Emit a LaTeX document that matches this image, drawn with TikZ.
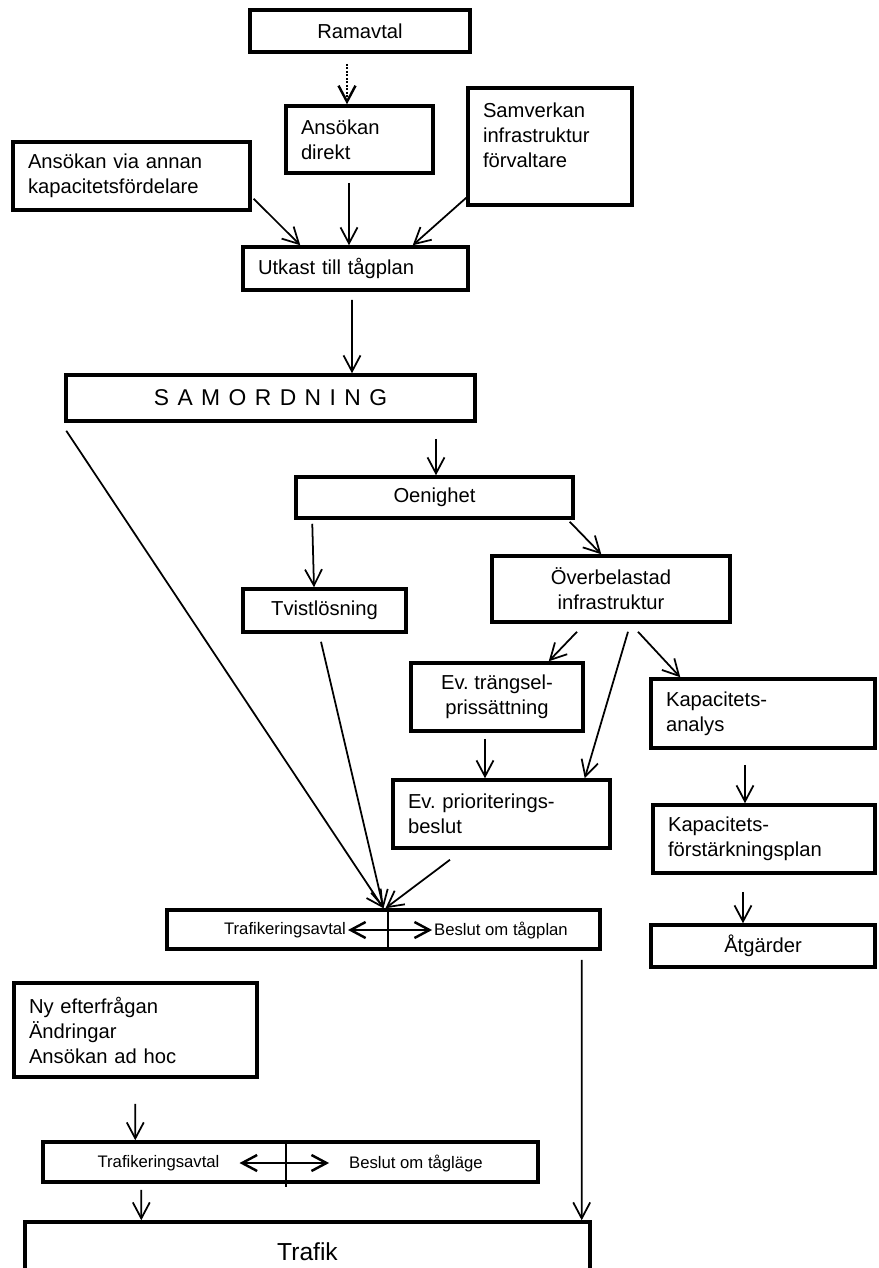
\documentclass[tikz,border=0pt]{standalone}
\usepackage{fontspec}
\setmainfont{Liberation Sans}
\usetikzlibrary{arrows.meta}
\newcommand{\spacedfont}{\fontsize{13}{15}\selectfont\spaceskip=4.8pt\relax}
\tikzset{
  box/.style={draw, line width=2pt, inner sep=0pt, align=center},
  leftbox/.style={box, align=left, inner xsep=0.3cm},
  arrow/.style={-{Straight Barb[length=3.2mm, width=3.4mm]}, line width=1pt},
  dotarrow/.style={arrow, densely dotted, line width=1.4pt},
  both/.style={{Straight Barb[length=3mm, width=3.2mm]}-{Straight Barb[length=3mm, width=3.2mm]}, line width=1.4pt},
  divider/.style={line width=1.4pt},
  small/.style={font=\fontsize{9.5}{11}\selectfont, inner sep=1pt},
  every node/.style={font=\fontsize{11.5}{14.2}\selectfont}
}
\begin{document}
\begin{tikzpicture}[x=0.02cm, y=-0.02cm]
    \useasboundingbox (0,0) rectangle (879,1268);
    \clip (0,0) rectangle (879,1268);

    % ansokningar
    \node[box, minimum width=4.4cm, minimum height=0.84cm] (ramavtal) at (360,31) {Ramavtal};
    \node[leftbox, text width=2.34cm, minimum height=1.34cm] (direkt) at (359.5,139.5) {Ansökan\\direkt};
    \node[box, inner xsep=0.3cm, inner ysep=0.3cm] (samverkan) at (550,146.5) {\parbox[c][1.74cm][t]{2.68cm}{Samverkan\\infrastruktur\\förvaltare}};
    \node[leftbox, text width=4.14cm, minimum height=1.36cm] (annan) at (131.5,176) {Ansökan via annan\\kapacitetsfördelare};
    \node[leftbox, text width=3.9cm, minimum height=0.86cm] (utkast) at (355.5,268.5) {Utkast till tågplan};
    \node[box, minimum width=8.18cm, minimum height=0.92cm, font=\spacedfont] (samordning) at (270.5,398) {S A M O R D N I N G};

    % oenighet
    \node[box, minimum width=5.54cm, minimum height=0.82cm] (oenighet) at (434.5,497.5) {Oenighet};
    \node[box, minimum width=3.26cm, minimum height=0.86cm] (tvist) at (324.5,610.5) {Tvistlösning};
    \node[box, minimum width=4.76cm, minimum height=1.32cm] (overbelastad) at (611,589) {Överbelastad\\infrastruktur};
    \node[box, minimum width=3.44cm, minimum height=1.36cm] (trangsel) at (497,697) {Ev.\ trängsel-\\prissättning};
    \node[leftbox, text width=3.74cm, minimum height=1.36cm] (prioritering) at (501.5,814) {Ev.\ prioriterings-\\beslut};
    \node[leftbox, text width=3.88cm, minimum height=1.38cm] (kapanalys) at (763,713.5) {Kapacitets-\\analys};
    \node[leftbox, text width=3.84cm, minimum height=1.36cm] (kapplan) at (764,839) {Kapacitets-\\förstärkningsplan};
    \node[box, minimum width=4.48cm, minimum height=0.84cm] (atgarder) at (763,946) {Åtgärder};

    % tagplan och taglage
    \node[box, minimum width=8.66cm, minimum height=0.78cm] (tagplan) at (383.5,929.5) {};
    \node[small] (planavtal) at (285,930) {Trafikeringsavtal};
    \node[small] (planbeslut) at (501,930) {Beslut om tågplan};
    \node[leftbox, text width=4.26cm, minimum height=1.88cm] (adhoc) at (135.5,1030) {Ny efterfrågan\\Ändringar\\Ansökan ad hoc};
    \node[box, minimum width=9.9cm, minimum height=0.8cm] (taglage) at (290.5,1162) {};
    \node[small] (lageavtal) at (158.5,1163) {Trafikeringsavtal};
    \node[small] (lagebeslut) at (416,1163) {Beslut om tågläge};
    \node[box, minimum width=11.3cm, minimum height=1.2cm, font=\fontsize{14}{16}\selectfont] (trafik) at (307.5,1252) {Trafik};

    \draw[divider] ([shift={(4.5,0)}]tagplan.north) -- ([shift={(4.5,0)}]tagplan.south);
    \draw[divider] ([shift={(-4.5,0)}]taglage.north) -- ([shift={(-4.5,3)}]taglage.south);
    \draw[both] (planavtal.east) -- (planbeslut.west);
    \draw[both] ([shift={(18,0)}]lageavtal.east) -- ([shift={(-18,0)}]lagebeslut.west);

    \draw[dotarrow] ([shift={(-13,10)}]ramavtal.south) -- ([shift={(-12.5,0)}]direkt.north);
    \draw[arrow] ([shift={(2,-13)}]annan.south east) -- ([shift={(59,0)}]utkast.north west);
    \draw[arrow] ([shift={(-10.5,8)}]direkt.south) -- ([shift={(-6.5,0)}]utkast.north);
    \draw[arrow] ([shift={(0,-9)}]samverkan.south west) -- ([shift={(-57,0)}]utkast.north east);
    \draw[arrow] ([shift={(-3.5,8)}]utkast.south) -- ([shift={(81.5,0)}]samordning.north);
    \draw[arrow] ([shift={(165.5,16)}]samordning.south) -- ([shift={(1.5,0)}]oenighet.north);
    \draw[arrow] ([shift={(2,8)}]samordning.south west) -- (tagplan.north);
    \draw[arrow] ([shift={(18,4)}]oenighet.south west) -- ([shift={(-10.5,0)}]tvist.north);
    \draw[arrow] ([shift={(-5,2)}]oenighet.south east) -- ([shift={(111,0)}]overbelastad.north west);
    \draw[arrow] ([shift={(-3.5,8)}]tvist.south) -- (tagplan.north);
    \draw[arrow] ([shift={(-34,8)}]overbelastad.south) -- ([shift={(-36,0)}]trangsel.north east);
    \draw[arrow] ([shift={(17,8)}]overbelastad.south) -- ([shift={(-27,0)}]prioritering.north east);
    \draw[arrow] ([shift={(27,8)}]overbelastad.south) -- ([shift={(31,0)}]kapanalys.north west);
    \draw[arrow] ([shift={(-12,6)}]trangsel.south) -- ([shift={(-16.5,0)}]prioritering.north);
    \draw[arrow] ([shift={(-51.5,10)}]prioritering.south) -- ([shift={(2,0)}]tagplan.north);
    \draw[arrow] ([shift={(-18,15)}]kapanalys.south) -- ([shift={(-19,0)}]kapplan.north);
    \draw[arrow] ([shift={(-21,17)}]kapplan.south) -- ([shift={(-20,0)}]atgarder.north);
    \draw[arrow] ([shift={(-20,9)}]tagplan.south east) -- ([shift={(-10,0)}]trafik.north east);
    \draw[arrow] ([shift={(123,25)}]adhoc.south west) -- ([shift={(94,0)}]taglage.north west);
    \draw[arrow] ([shift={(100,6)}]taglage.south west) -- ([shift={(118,0)}]trafik.north west);
\end{tikzpicture}
\end{document}
